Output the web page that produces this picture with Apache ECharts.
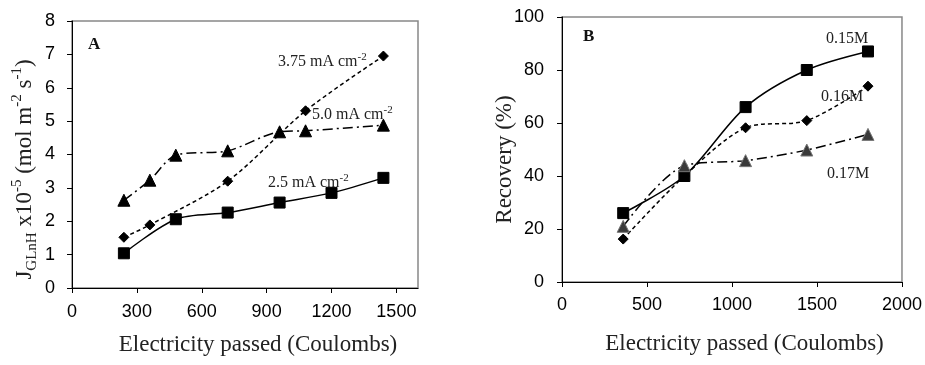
<!DOCTYPE html>
<html>
<head>
<meta charset="utf-8">
<script src="https://cdn.jsdelivr.net/npm/echarts@6/dist/echarts.min.js"></script>
<style>
  html, body { margin: 0; padding: 0; background: #fff; }
  #chart { width: 925px; height: 365px; }
</style>
</head>
<body>
<div id="chart"></div>
<script>
// Panel A: flux vs. electricity passed, three current densities
const xA_25 = [240, 480, 720, 960, 1200, 1440];
const yA_25 = [1.04, 2.06, 2.26, 2.56, 2.85, 3.30];
const xA_375 = [240, 360, 720, 1080, 1440];
const yA_375 = [1.52, 1.89, 3.20, 5.31, 6.95];
const xA_50 = [240, 360, 480, 720, 960, 1080, 1440];
const yA_50 = [2.63, 3.23, 3.98, 4.11, 4.68, 4.71, 4.88];
const ticksA_x = [0, 300, 600, 900, 1200, 1500];

// Panel B: recovery vs. electricity passed, three concentrations
const xB = [360, 720, 1080, 1440, 1800];
const yB_015 = [26.0, 40.0, 66.0, 80.0, 87.0];
const yB_016 = [16.2, 40.0, 58.2, 60.9, 73.9];
const yB_017 = [21.0, 43.9, 45.8, 49.8, 55.7];

const pairs = (xs, ys) => xs.map((x, i) => [x, ys[i]]);

const serif = '"Liberation Serif", "Times New Roman", serif';
const sans = '"Liberation Sans", Arial, sans-serif';

const plain = v => String(v);
const tickLabel = { fontFamily: sans, fontSize: 18, color: '#000', formatter: plain };
const axisLineStyle = { lineStyle: { color: '#000', width: 1 } };

const dashShort = [4, 3];
const dashDot = [10, 4, 2, 4];

function line(name, data, xi, symbol, size, dash, fill, border) {
  return {
    name, type: 'line', xAxisIndex: xi, yAxisIndex: xi,
    data, symbol, symbolSize: size, smooth: 0.3,
    lineStyle: { color: '#000', width: 1.5, type: dash },
    itemStyle: { color: fill || '#000', borderColor: border || fill || '#000', borderWidth: 1 },
    emphasis: { disabled: true }, z: 3
  };
}

const annoRich = {
  t: { fontSize: 16, fontFamily: serif, color: '#222', lineHeight: 20 },
  s: { fontSize: 11, fontFamily: serif, color: '#222', verticalAlign: 'top', lineHeight: 12 }
};

function anno(text, left, top) {
  return { type: 'text', left, top, style: { text, rich: annoRich, fill: '#222' }, z: 10 };
}

const chart = echarts.init(document.getElementById('chart'), null, { renderer: 'canvas' });

chart.setOption({
  animation: false,
  backgroundColor: '#fff',
  grid: [
    { left: 72, top: 21, width: 346, height: 267, show: true, borderColor: '#888', borderWidth: 1.5, backgroundColor: 'transparent' },
    { left: 562, top: 17, width: 341, height: 265, show: true, borderColor: '#888', borderWidth: 1.5, backgroundColor: 'transparent' }
  ],
  xAxis: [
    {
      gridIndex: 0, type: 'value', min: 0, max: 1600, interval: 300,
      axisLine: axisLineStyle,
      axisTick: { show: true, length: 5, lineStyle: { color: '#000' }, customValues: ticksA_x },
      axisLabel: Object.assign({}, tickLabel, { margin: 15, customValues: ticksA_x }),
      splitLine: { show: false },
      name: 'Electricity passed (Coulombs)', nameLocation: 'middle', nameGap: 45,
      nameMoveOverlap: false,
      nameTextStyle: { fontFamily: serif, fontSize: 23, color: '#222', padding: [0, 0, 0, 26] }
    },
    {
      gridIndex: 1, type: 'value', min: 0, max: 2000, interval: 500,
      axisLine: axisLineStyle,
      axisTick: { show: true, length: 5, lineStyle: { color: '#000' } },
      axisLabel: Object.assign({}, tickLabel, { margin: 14 }),
      splitLine: { show: false },
      name: 'Electricity passed (Coulombs)', nameLocation: 'middle', nameGap: 50,
      nameMoveOverlap: false,
      nameTextStyle: { fontFamily: serif, fontSize: 23, color: '#222', padding: [0, 0, 0, 25] }
    }
  ],
  yAxis: [
    {
      gridIndex: 0, type: 'value', min: 0, max: 8, interval: 1,
      axisLine: { show: true, lineStyle: { color: '#000', width: 1 } },
      axisTick: { show: true, length: 5, lineStyle: { color: '#000' } },
      axisLabel: Object.assign({}, tickLabel, { margin: 17 }),
      splitLine: { show: false },
      name: 'J{sub|GLnH} x10{sup|-5} (mol m{sup|-2} s{sup|-1})',
      nameLocation: 'middle', nameRotate: 90, nameGap: 32,
      nameMoveOverlap: false,
      nameTextStyle: {
        fontFamily: serif, fontSize: 23, color: '#222', lineHeight: 30,
        padding: [0, 30, 0, 0],
        rich: {
          sub: { fontFamily: serif, fontSize: 15, color: '#222', verticalAlign: 'bottom', lineHeight: 15 },
          sup: { fontFamily: serif, fontSize: 15, color: '#222', verticalAlign: 'top', lineHeight: 15 }
        }
      }
    },
    {
      gridIndex: 1, type: 'value', min: 0, max: 100, interval: 20,
      axisLine: { show: true, lineStyle: { color: '#000', width: 1 } },
      axisTick: { show: true, length: 5, lineStyle: { color: '#000' } },
      axisLabel: Object.assign({}, tickLabel, { margin: 18 }),
      splitLine: { show: false },
      name: 'Recovery (%)', nameLocation: 'middle', nameRotate: 90, nameGap: 46,
      nameMoveOverlap: false,
      nameTextStyle: { fontFamily: serif, fontSize: 23, color: '#222', padding: [0, 20, 0, 0] }
    }
  ],
  series: [
    line('2.5 mA cm-2', pairs(xA_25, yA_25), 0, 'rect', 11, 'solid'),
    line('3.75 mA cm-2', pairs(xA_375, yA_375), 0, 'diamond', 10, dashShort),
    line('5.0 mA cm-2', pairs(xA_50, yA_50), 0, 'triangle', 12, dashDot),
    line('0.15M', pairs(xB, yB_015), 1, 'rect', 11, 'solid'),
    line('0.16M', pairs(xB, yB_016), 1, 'diamond', 10, dashShort),
    line('0.17M', pairs(xB, yB_017), 1, 'triangle', 12, dashDot, '#3a3a3a', '#777')
  ],
  graphic: [
    { type: 'text', left: 88, top: 36, style: { text: 'A', font: 'bold 17px ' + serif, fill: '#111' } },
    { type: 'text', left: 583, top: 28, style: { text: 'B', font: 'bold 17px ' + serif, fill: '#111' } },
    anno('{t|3.75 mA cm}{s|-2}', 278, 52),
    anno('{t|5.0 mA cm}{s|-2}', 312, 105),
    anno('{t|2.5 mA cm}{s|-2}', 268, 173),
    anno('{t|0.15M}', 826, 31),
    anno('{t|0.16M}', 821, 89),
    anno('{t|0.17M}', 827, 166)
  ]
});
</script>
</body>
</html>
